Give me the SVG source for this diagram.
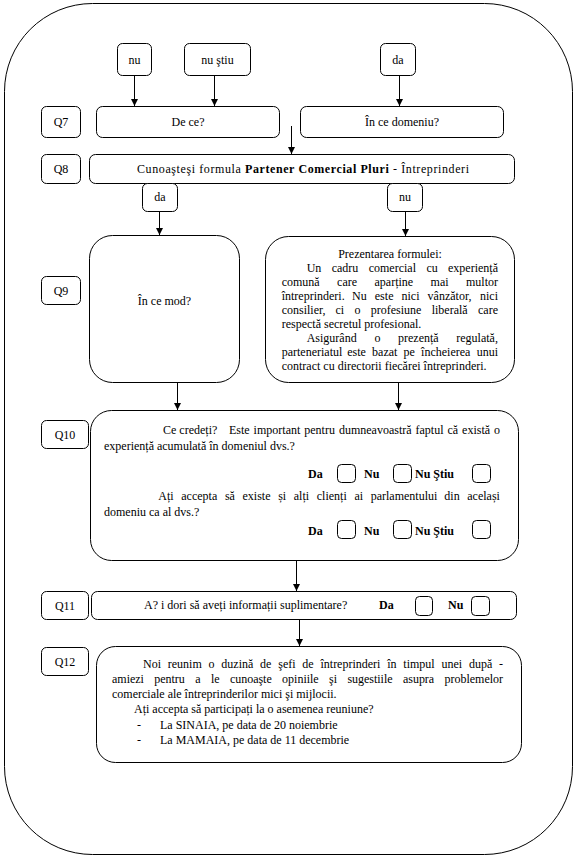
<svg xmlns="http://www.w3.org/2000/svg" width="577" height="859" viewBox="0 0 577 859">
<defs>
<style>
.b{fill:#fff;stroke:#000;stroke-width:1}
.cb{fill:none;stroke:#000;stroke-width:1}
.ln{fill:none;stroke:#000;stroke-width:1;marker-end:url(#ah)}
text{font-family:"Liberation Serif","Times New Roman",serif;font-size:12px;fill:#000}
.c{text-anchor:middle}
.bd{font-weight:bold}
</style>
<marker id="ah" viewBox="0 0 8 8" refX="8" refY="4" markerWidth="8" markerHeight="7" markerUnits="userSpaceOnUse" orient="auto">
<path d="M0,0 L8,4 L0,8 z" fill="#000"/>
</marker>
</defs>
<rect width="577" height="859" fill="#fff"/>
<g id="frame"><rect class="b" x="4.5" y="3.5" width="568" height="851" rx="88" ry="88"/></g>

<g id="connectors">
<line class="ln" x1="134.5" y1="76" x2="134.5" y2="106"/>
<line class="ln" x1="214.5" y1="76" x2="214.5" y2="106"/>
<line class="ln" x1="399.5" y1="76" x2="399.5" y2="106"/>
<line class="ln" x1="291.5" y1="126" x2="291.5" y2="154"/>
<line class="ln" x1="159.5" y1="212" x2="159.5" y2="235"/>
<line class="ln" x1="405.5" y1="212" x2="405.5" y2="236"/>
<line class="ln" x1="177.5" y1="382" x2="177.5" y2="410"/>
<line class="ln" x1="398.5" y1="382" x2="398.5" y2="410"/>
<line class="ln" x1="296.5" y1="560" x2="296.5" y2="591"/>
<line class="ln" x1="299.5" y1="619" x2="299.5" y2="646"/>
</g>

<g id="nu1"><rect class="b" x="117.5" y="43.5" width="34" height="32" rx="5"/><text class="c" x="134.5" y="64">nu</text></g>
<g id="nustiu"><rect class="b" x="184.5" y="43.5" width="66" height="32" rx="5"/><text class="c" x="217.5" y="64">nu ştiu</text></g>
<g id="da1"><rect class="b" x="380.5" y="43.5" width="35" height="32" rx="5"/><text class="c" x="398" y="64">da</text></g>

<g id="q7"><rect class="b" x="41.5" y="106.5" width="39" height="31" rx="5"/><text class="c" x="61" y="126">Q7</text></g>
<g id="dece"><rect class="b" x="96.5" y="106.5" width="183" height="31" rx="6"/><text class="c" x="188" y="126">De ce?</text></g>
<g id="domeniu"><rect class="b" x="300.5" y="106.5" width="203" height="31" rx="6"/><text class="c" x="402" y="126">În ce domeniu?</text></g>

<g id="q8"><rect class="b" x="41.5" y="154.5" width="39" height="29" rx="5"/><text class="c" x="61" y="173">Q8</text></g>
<g id="formula"><rect class="b" x="89.5" y="154.5" width="425" height="29" rx="6"/><text x="137" y="173" textLength="332" lengthAdjust="spacing">Cunoaşteşi formula <tspan class="bd">Partener Comercial Pluri</tspan> - Întreprinderi</text></g>
<g id="da2"><rect class="b" x="142.5" y="183.5" width="35" height="28" rx="5"/><text class="c" x="160" y="201">da</text></g>
<g id="nu2"><rect class="b" x="387.5" y="183.5" width="35" height="28" rx="5"/><text class="c" x="405" y="201">nu</text></g>

<g id="q9"><rect class="b" x="41.5" y="276.5" width="39" height="28" rx="5"/><text class="c" x="61" y="295">Q9</text></g>
<g id="incemod"><rect class="b" x="89.5" y="235.5" width="150" height="147" rx="23"/><text class="c" x="164.5" y="305">În ce mod?</text></g>
<g id="prezentare"><rect class="b" x="265.5" y="236.5" width="249" height="146" rx="23"/>
<text class="c" x="390" y="258">Prezentarea formulei:</text>
<text y="272"><tspan x="306.7">Un</tspan><tspan x="331.7">cadru</tspan><tspan x="368.7">comercial</tspan><tspan x="426.4">cu</tspan><tspan x="448">experiență</tspan></text>
<text y="286"><tspan x="281.7">comună</tspan><tspan x="337.1">care</tspan><tspan x="374.5">aparține</tspan><tspan x="430.6">mai</tspan><tspan x="466">multor</tspan></text>
<text y="300"><tspan x="281.7">întreprinderi.</tspan><tspan x="352.1">Nu</tspan><tspan x="374.8">este</tspan><tspan x="401.5">nici</tspan><tspan x="427.6">vânzător,</tspan><tspan x="480">nici</tspan></text>
<text y="314"><tspan x="281.7">consilier,</tspan><tspan x="335.4">ci</tspan><tspan x="354.4">o</tspan><tspan x="370.7">profesiune</tspan><tspan x="431.7">liberală</tspan><tspan x="478">care</tspan></text>
<text x="281.7" y="328">respectă secretul profesional.</text>
<text y="342"><tspan x="306.7">Asigurând</tspan><tspan x="374.4">o</tspan><tspan x="398">prezență</tspan><tspan x="456.3">regulată,</tspan></text>
<text y="356"><tspan x="281.7">parteneriatul</tspan><tspan x="347.2">este</tspan><tspan x="372.1">bazat</tspan><tspan x="403.6">pe</tspan><tspan x="421.1">încheierea</tspan><tspan x="476.7">unui</tspan></text>
<text x="281.7" y="370">contract cu directorii fiecărei întreprinderi.</text>
</g>

<g id="q10"><rect class="b" x="41.5" y="420.5" width="47" height="28" rx="5"/><text class="c" x="65" y="439">Q10</text></g>
<g id="important"><rect class="b" x="90.5" y="410.5" width="428" height="150" rx="21"/>
<text x="163" y="434">Ce credeți?</text>
<text x="229" y="434" word-spacing="0.9" textLength="271" lengthAdjust="spacing">Este important pentru dumneavoastră faptul că există o</text>
<text x="104" y="450">experiență acumulată în domeniul dvs.?</text>
<text class="bd" x="308" y="478">Da</text><rect class="cb" x="337.5" y="464.5" width="18" height="18" rx="4"/>
<text class="bd" x="364" y="478">Nu</text><rect class="cb" x="393.5" y="464.5" width="18" height="18" rx="4"/>
<text class="bd" x="415" y="478">Nu Ştiu</text><rect class="cb" x="472.5" y="464.5" width="18" height="18" rx="4"/>
<text y="500"><tspan x="158.3">Ați</tspan><tspan x="181.3">accepta</tspan><tspan x="224.9">să</tspan><tspan x="242.5">existe</tspan><tspan x="278.2">și</tspan><tspan x="293.8">alți</tspan><tspan x="316.8">clienți</tspan><tspan x="354.4">ai</tspan><tspan x="370.7">parlamentului</tspan><tspan x="444.3">din</tspan><tspan x="467.3">același</tspan></text>
<text x="104" y="516">domeniu ca al dvs.?</text>
<text class="bd" x="308" y="535">Da</text><rect class="cb" x="337.5" y="520.5" width="18" height="18" rx="4"/>
<text class="bd" x="364" y="535">Nu</text><rect class="cb" x="393.5" y="520.5" width="18" height="18" rx="4"/>
<text class="bd" x="415" y="535">Nu Ştiu</text><rect class="cb" x="472.5" y="520.5" width="18" height="18" rx="4"/>
</g>

<g id="q11"><rect class="b" x="41.5" y="591.5" width="47" height="28" rx="5"/><text class="c" x="65" y="610">Q11</text></g>
<g id="informatii"><rect class="b" x="91.5" y="591.5" width="425" height="28" rx="6"/>
<text x="144" y="609">A? i dori să aveți informații suplimentare?</text>
<text class="bd" x="379" y="609">Da</text><rect class="cb" x="415.5" y="596.5" width="17" height="19" rx="4"/>
<text class="bd" x="448" y="609">Nu</text><rect class="cb" x="471.5" y="596.5" width="18" height="19" rx="4"/>
</g>

<g id="q12"><rect class="b" x="41.5" y="647.5" width="47" height="28" rx="5"/><text class="c" x="65" y="666">Q12</text></g>
<g id="reuniune"><rect class="b" x="96.5" y="646.5" width="425" height="116" rx="19"/>
<text x="143" y="668" word-spacing="3.8" textLength="360" lengthAdjust="spacing">Noi reunim o duzină de şefi de întreprinderi în timpul unei după -</text>
<text x="112" y="683" word-spacing="7.4" textLength="391" lengthAdjust="spacing">amiezi pentru a le cunoaşte opiniile şi sugestiile asupra problemelor</text>
<text x="112" y="698">comerciale ale întreprinderilor mici şi mijlocii.</text>
<text x="134" y="713">Ați accepta să participați la o asemenea reuniune?</text>
<text x="137" y="729">-</text><text x="160" y="729">La SINAIA, pe data de 20 noiembrie</text>
<text x="137" y="744">-</text><text x="160" y="744">La MAMAIA, pe data de 11 decembrie</text>
</g>
</svg>
